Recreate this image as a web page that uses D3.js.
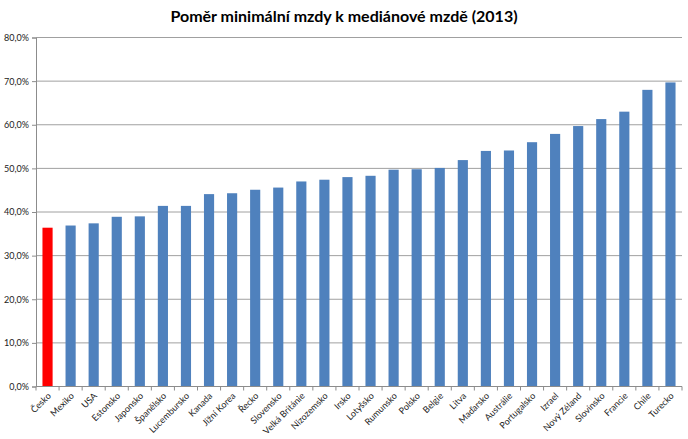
<!DOCTYPE html>
<html><head><meta charset="utf-8">
<script src="https://cdn.jsdelivr.net/npm/d3@7"></script>
<style>body{margin:0;background:#fff}svg{display:block}</style>
</head><body>
<svg id="c" width="688" height="439"></svg>
<script>
const categories = ["Česko","Mexiko","USA","Estonsko","Japonsko","Španělsko","Lucembursko","Kanada","Jižní Korea","Řecko","Slovensko","Velká Británie","Nizozemsko","Irsko","Lotyšsko","Rumunsko","Polsko","Belgie","Litva","Maďarsko","Austrálie","Portugalsko","Izrael","Nový Zéland","Slovinsko","Francie","Chile","Turecko"];
const values = [36.4,36.9,37.4,38.9,39.0,41.4,41.4,44.1,44.3,45.1,45.6,47.0,47.4,48.0,48.3,49.7,49.8,50.1,51.9,54.0,54.1,56.0,57.9,59.7,61.3,63.0,68.0,69.7];
const highlighted = ["Česko"];
const yTicks = [0,10,20,30,40,50,60,70,80];
const title = "Poměr minimální mzdy k mediánové mzdě (2013)";

const svg = d3.select("#c");
const m = {l:36, r:682, t:37.5, b:386.5};
const x = d3.scaleBand().domain(categories).range([m.l, m.r]).paddingInner(0.56).paddingOuter(0.28);
const y = d3.scaleLinear().domain([0,80]).range([m.b, m.t]);
const fmt = v => d3.format(".1f")(v).replace(".", ",") + "%";
const font = "Lato, 'Open Sans', sans-serif";

svg.append("text").attr("x", 344).attr("y", 22).attr("text-anchor","middle")
  .attr("font-family",font).attr("font-weight","bold").attr("font-size",16)
  .attr("fill","#000").text(title);

// gridlines
svg.append("g").selectAll("line").data(yTicks.filter(d=>d>0)).join("line")
  .attr("x1", m.l).attr("x2", m.r).attr("y1", d=>y(d)).attr("y2", d=>y(d))
  .attr("stroke","#a0a0a0").attr("stroke-width",1);

// y axis
const ya = svg.append("g").attr("transform",`translate(${m.l},0)`)
  .call(d3.axisLeft(y).tickValues(yTicks).tickFormat(fmt).tickSize(4).tickPadding(3));
ya.select(".domain").attr("stroke","#8c8c8c");
ya.selectAll(".tick line").attr("stroke","#8c8c8c");
ya.selectAll("text").attr("font-family",font).attr("font-size",9).attr("fill","#222");

// bars
svg.append("g").selectAll("rect").data(categories).join("rect")
  .attr("x", d=>x(d)).attr("width", x.bandwidth())
  .attr("y", (d,i)=>y(values[i])).attr("height", (d,i)=>y(0)-y(values[i]))
  .attr("fill", d=>highlighted.includes(d) ? "#ff0000" : "#4f81bd");

// x axis
const xa = svg.append("g").attr("transform",`translate(0,${m.b})`);
xa.append("line").attr("x1",m.l).attr("x2",m.r).attr("stroke","#8c8c8c");
const bounds = d3.range(categories.length+1).map(i => m.l + i*(m.r-m.l)/categories.length);
xa.selectAll(".tk").data(bounds).join("line").attr("class","tk")
  .attr("x1",d=>d).attr("x2",d=>d).attr("y1",0).attr("y2",4).attr("stroke","#8c8c8c");
xa.selectAll(".lbl").data(categories).join("text").attr("class","lbl")
  .attr("transform", d=>`translate(${x(d)+x.bandwidth()/2+4},10) rotate(-45)`)
  .attr("text-anchor","end").attr("font-family",font)
  .attr("font-size",9).attr("fill","#222").text(d=>d);
</script>
</body></html>
